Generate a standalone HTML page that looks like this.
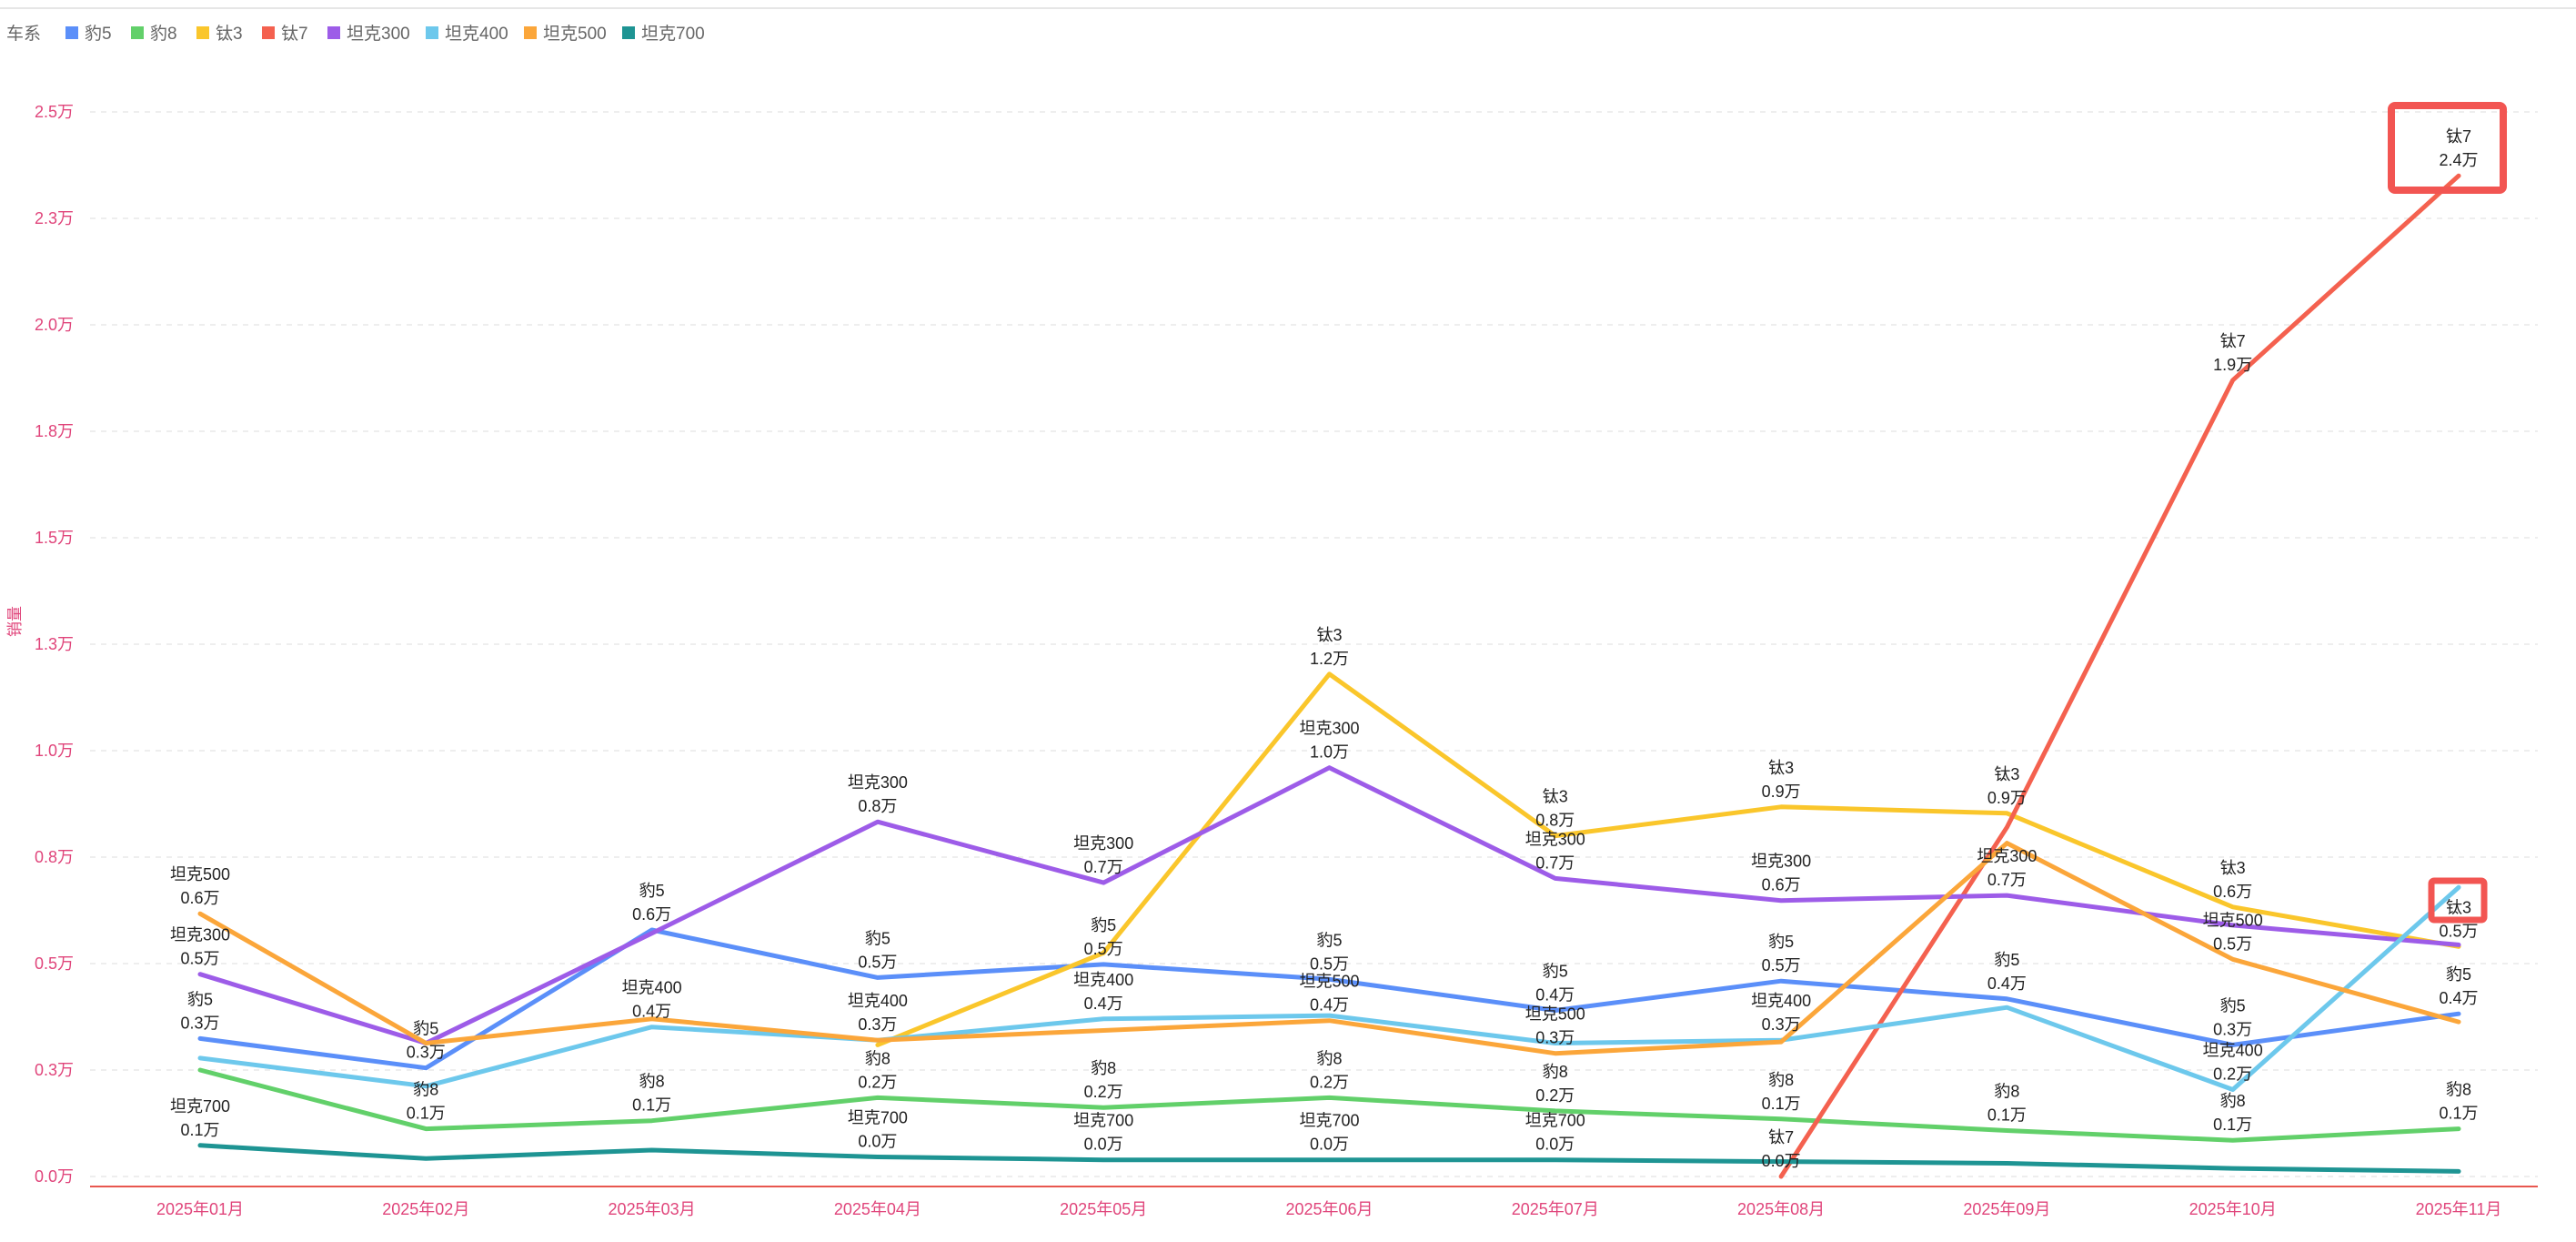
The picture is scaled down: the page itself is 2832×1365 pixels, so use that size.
<!DOCTYPE html>
<html><head><meta charset="utf-8">
<style>
html,body{margin:0;padding:0;background:#fff;}
body{width:2832px;height:1360px;overflow:hidden;font-family:"Liberation Sans","Noto Sans CJK SC",sans-serif;}
svg text{font-family:"Liberation Sans","Noto Sans CJK SC",sans-serif;}
</style></head>
<body>
<svg id="chart" width="2832" height="1360" viewBox="0 0 2832 1360" xmlns="http://www.w3.org/2000/svg">
<line x1="0" y1="9" x2="2832" y2="9" stroke="#e6e6e6" stroke-width="2"/>
<g id="legend"></g>
<g id="grid"></g>
<g id="yaxis"></g>
<g id="xaxis"></g>
<g id="lines"></g>
<g id="labels"></g>
<text x="22" y="683" fill="#e0457b" font-size="17" text-anchor="middle" transform="rotate(-90 22 683)">销量</text>
<rect x="2629" y="116" width="123" height="93" rx="4" fill="none" stroke="#f25552" stroke-width="8"/>
<rect x="2673" y="968" width="58" height="43" rx="3" fill="none" stroke="#f25552" stroke-width="7"/>
</svg>
<script>
const categories = ["2025年01月","2025年02月","2025年03月","2025年04月","2025年05月","2025年06月","2025年07月","2025年08月","2025年09月","2025年10月","2025年11月"];
const seriesNames = ["豹5","豹8","钛3","钛7","坦克300","坦克400","坦克500","坦克700"];
const seriesColors = ["#5b8ff9","#62d06a","#fac62b","#f4614f","#9d5ce8","#6dc8ec","#fba63a","#1e9493"];
const bao5 = [0.324,0.255,0.579,0.467,0.498,0.463,0.39,0.459,0.417,0.309,0.382];
const bao8 = [0.25,0.112,0.131,0.185,0.162,0.185,0.154,0.135,0.108,0.085,0.112];
const ti3 = [null,null,null,0.309,0.525,1.18,0.80,0.868,0.853,0.633,0.54];
const ti7 = [null,null,null,null,null,null,null,0.0,0.82,1.87,2.35];
const tank300 = [0.475,0.313,0.571,0.833,0.69,0.96,0.70,0.648,0.66,0.59,0.544];
const tank400 = [0.278,0.212,0.351,0.32,0.37,0.378,0.313,0.32,0.397,0.204,0.679];
const tank500 = [0.617,0.313,0.37,0.32,0.343,0.366,0.289,0.316,0.783,0.51,0.363];
const tank700 = [0.073,0.042,0.062,0.046,0.039,0.039,0.039,0.035,0.031,0.019,0.012];
const yTicks = [0,0.25,0.5,0.75,1.0,1.25,1.5,1.75,2.0,2.25,2.5];
const yTickLabels = ["0.0万","0.3万","0.5万","0.8万","1.0万","1.3万","1.5万","1.8万","2.0万","2.3万","2.5万"];
// visible point labels: [seriesIndex, monthIndex]
const shownLabels = [[6,0],[4,0],[0,0],[7,0],[0,1],[1,1],[0,2],[5,2],[1,2],
[4,3],[0,3],[5,3],[1,3],[7,3],[4,4],[0,4],[5,4],[1,4],[7,4],
[2,5],[4,5],[0,5],[6,5],[1,5],[7,5],[2,6],[4,6],[0,6],[6,6],[1,6],[7,6],
[2,7],[4,7],[0,7],[5,7],[1,7],[3,7],[2,8],[4,8],[0,8],[1,8],
[3,9],[2,9],[6,9],[0,9],[5,9],[1,9],[3,10],[2,10],[0,10],[1,10]];

const allSeries = [bao5,bao8,ti3,ti7,tank300,tank400,tank500,tank700];
const NS="http://www.w3.org/2000/svg";
const X0=220, XSTEP=248.3, Y0=1293, YMAX=2.5, YTOP=123;
const xs = i => X0 + XSTEP*i;
const ys = v => Y0 - (v/YMAX)*(Y0-YTOP);
function mk(tag, attrs, parent){const e=document.createElementNS(NS,tag);for(const k in attrs)e.setAttribute(k,attrs[k]);parent.appendChild(e);return e;}

// legend
const lg=document.getElementById('legend');
let t=mk('text',{x:7,y:43,'font-size':19,fill:'#666'},lg);t.textContent='车系';


let lx=72;
const legW=[72,72,72,72,108,108,108,108];
seriesNames.forEach((n,i)=>{
  const g=mk('g',{},lg);
  
  
  mk('rect',{x:lx,y:29,width:14,height:14,fill:seriesColors[i]},g);
  const tx=mk('text',{x:lx+21,y:43,'font-size':19,fill:'#666'},g);tx.textContent=n;
  lx+=legW[i];
});

// grid + y axis
const gr=document.getElementById('grid'), ya=document.getElementById('yaxis');
yTicks.forEach((v,i)=>{
  const y=ys(v);
  const l=mk('line',{x1:99,y1:y,x2:2790,y2:y,stroke:'#e8e8e8','stroke-width':1.5,'stroke-dasharray':'6 6'},gr);
  
  
  const tx=mk('text',{x:81,y:y+6,'font-size':18,fill:'#e0457b','text-anchor':'end'},ya);
  tx.textContent=yTickLabels[i];
  
  
});
// x axis
const xa=document.getElementById('xaxis');
const base=mk('line',{x1:99,y1:1304,x2:2790,y2:1304,stroke:'#e8574f','stroke-width':2},xa);


categories.forEach((c,i)=>{
  const tx=mk('text',{x:xs(i),y:1335,'font-size':18,fill:'#e0457b','text-anchor':'middle'},xa);
  tx.textContent=c;
  
  
});
// lines
const ln=document.getElementById('lines');
allSeries.forEach((arr,si)=>{
  let d='';let started=false;
  arr.forEach((v,i)=>{ if(v===null){started=false;return;} d+=(started?'L':'M')+xs(i).toFixed(1)+','+ys(v).toFixed(1)+' '; started=true;});
  const p=mk('path',{d:d,fill:'none',stroke:seriesColors[si],'stroke-width':5,'stroke-linejoin':'round','stroke-linecap':'round'},ln);
  
  
});
// labels
const lb=document.getElementById('labels');
shownLabels.forEach(([si,mi])=>{
  const v=allSeries[si][mi]; if(v===null) return;
  const x=xs(mi), y=ys(v);
  const g=mk('g',{},lb);
  
  
  const a=mk('text',{x:x,y:y-37,'font-size':18,fill:'#222','text-anchor':'middle'},g);a.textContent=seriesNames[si];
  const b=mk('text',{x:x,y:y-11,'font-size':18,fill:'#222','text-anchor':'middle'},g);b.textContent=v.toFixed(1)+'万';
});
</script>
</body></html>
